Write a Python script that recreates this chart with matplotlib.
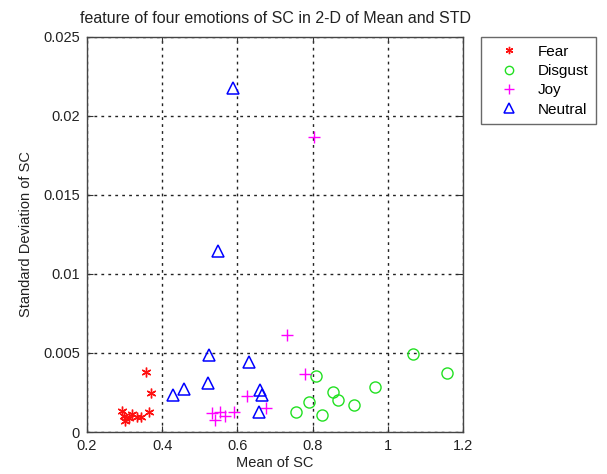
import matplotlib
matplotlib.use("Agg")
import matplotlib.pyplot as plt

fear_x = [0.357, 0.371, 0.365, 0.294, 0.301, 0.299, 0.319, 0.333, 0.343, 0.312]
fear_y = [0.00378, 0.00249, 0.00129, 0.00135, 0.00070, 0.00100, 0.00112, 0.00097, 0.00093, 0.00087]

disgust_x = [0.808, 0.854, 0.867, 0.790, 0.826, 0.910, 0.965, 0.756, 1.068, 1.157]
disgust_y = [0.00354, 0.00255, 0.00203, 0.00192, 0.00108, 0.00171, 0.00287, 0.00125, 0.00494, 0.00376]

joy_x = [0.803, 0.731, 0.781, 0.626, 0.677, 0.533, 0.541, 0.555, 0.568, 0.590]
joy_y = [0.01870, 0.00614, 0.00367, 0.00226, 0.00155, 0.00118, 0.00076, 0.00128, 0.00101, 0.00128]

neutral_x = [0.589, 0.549, 0.525, 0.522, 0.459, 0.430, 0.630, 0.659, 0.666, 0.657]
neutral_y = [0.02177, 0.01146, 0.00487, 0.00308, 0.00272, 0.00234, 0.00445, 0.00266, 0.00234, 0.00128]

xticks = [0.2, 0.4, 0.6, 0.8, 1.0, 1.2]
xtick_labels = ["0.2", "0.4", "0.6", "0.8", "1", "1.2"]
yticks = [0, 0.005, 0.01, 0.015, 0.02, 0.025]
ytick_labels = ["0", "0.005", "0.01", "0.015", "0.02", "0.025"]

plt.rcParams['font.family'] = ['Liberation Sans', 'DejaVu Sans']
fig = plt.figure(figsize=(6.07, 4.74), dpi=100)
W, H = 607, 474
ax = fig.add_axes([87 / W, 1 - 432 / H, (463 - 87) / W, (432 - 37) / H])

ax.plot(fear_x, fear_y, linestyle='none', marker=(6, 2, 0), color='#ff1010',
        markersize=7, markeredgewidth=1.0, label='Fear')
ax.plot(disgust_x, disgust_y, linestyle='none', marker='o', color='#22e022',
        markerfacecolor='none', markersize=8, markeredgewidth=1.0, label='Disgust')
ax.plot(joy_x, joy_y, linestyle='none', marker='+', color='#ff00ff',
        markersize=9, markeredgewidth=1.0, label='Joy')
ax.plot(neutral_x, neutral_y, linestyle='none', marker='^', color='#0000ff',
        markerfacecolor='none', markersize=9, markeredgewidth=1.1, label='Neutral')

ax.set_xlim(0.2, 1.2)
ax.set_ylim(0, 0.025)
ax.set_xticks(xticks)
ax.set_xticklabels(xtick_labels)
ax.set_yticks(yticks)
ax.set_yticklabels(ytick_labels)
ax.tick_params(direction='in', top=True, right=True, labelsize=10.5, length=4,
               color='#333333', labelcolor='#222222')
ax.tick_params(axis='x', pad=5)
ax.tick_params(axis='y', pad=5)
ax.grid(True, linestyle=(0, (2, 3)), color='#222222', linewidth=1.0)
for s in ax.spines.values():
    s.set_color('#444444')
    s.set_linewidth(1.0)

ax.set_title('feature of four emotions of SC in 2-D of Mean and STD', fontsize=11.5,
             pad=10, color='#222222')
ax.set_xlabel('Mean of SC', fontsize=10.5, labelpad=2, color='#222222')
ax.set_ylabel('Standard Deviation of SC', fontsize=10.5, labelpad=7, color='#222222')

leg = fig.legend(loc='upper left', bbox_to_anchor=(481 / W, 1 - 37 / H), fontsize=11,
                 frameon=True, fancybox=False, edgecolor='#444444', borderpad=0.5,
                 handlelength=2.6, handletextpad=0.6, labelspacing=0.35,
                 borderaxespad=0, markerscale=0.75)
leg.get_frame().set_linewidth(1.0)

fig.savefig('out.png', dpi=100)
